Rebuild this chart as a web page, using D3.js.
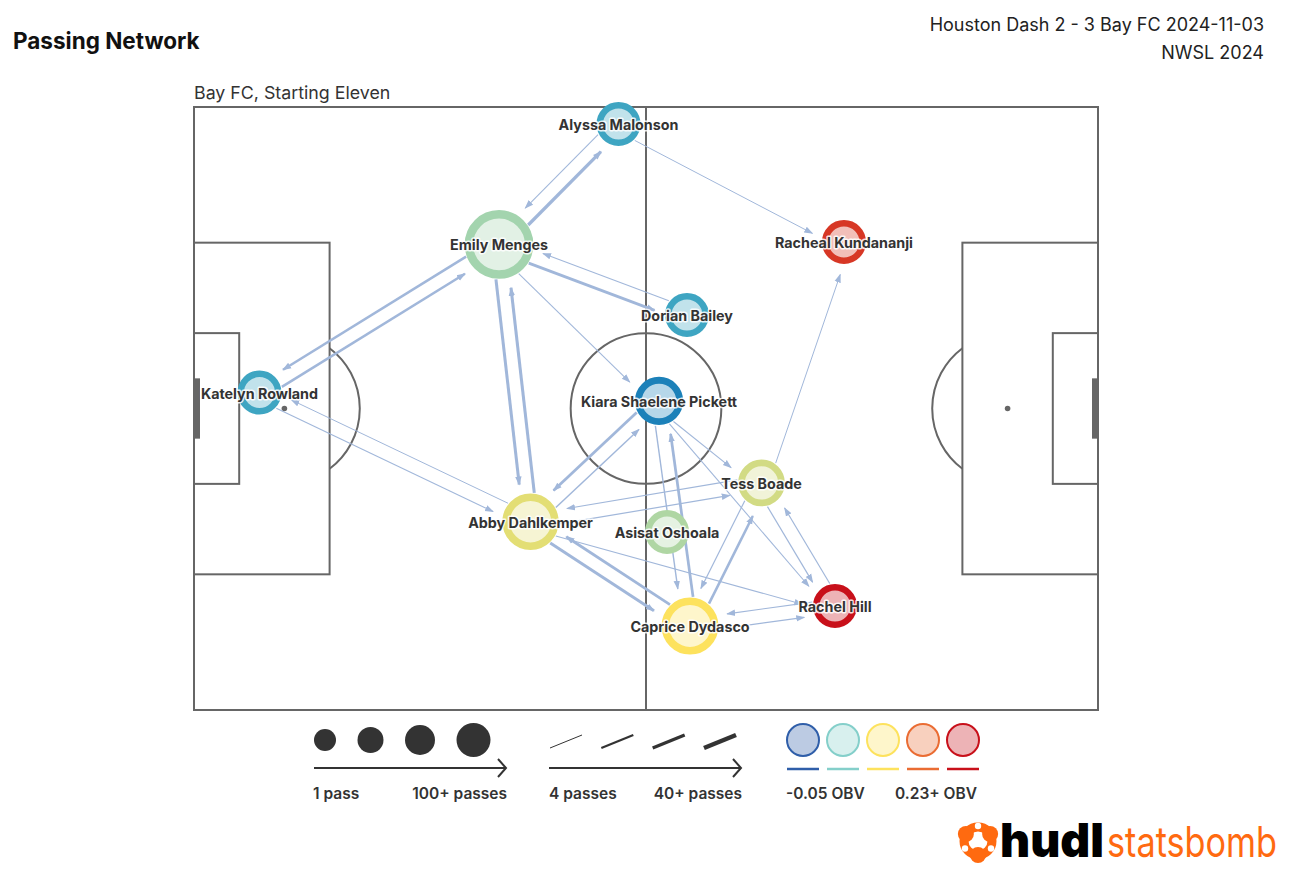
<!DOCTYPE html>
<html><head><meta charset="utf-8">
<script src="https://cdn.jsdelivr.net/npm/d3@7"></script>
<style>
body{margin:0;background:#fff;}
svg{display:block;font-family:Inter,"Noto Sans",sans-serif;}
</style>
</head><body>
<svg id="chart" width="1292" height="891"></svg>
<script>
// ---------- data ----------
const players      = ["Alyssa Malonson","Emily Menges","Racheal Kundananji","Dorian Bailey","Katelyn Rowland","Kiara Shaelene Pickett","Tess Boade","Abby Dahlkemper","Asisat Oshoala","Caprice Dydasco","Rachel Hill"];
const playerX      = [56.35, 40.49, 86.28, 65.44, 8.69, 61.73, 75.33, 44.67, 62.79, 65.84, 85.09];
const playerY      = [2.26, 18.24, 17.91, 27.6, 37.88, 39.0, 49.88, 55.02, 56.38, 68.86, 66.2];
const playerPasses = [18, 67, 14, 20, 22, 33, 31, 45, 16, 46, 19];
const playerOBV    = [-0.008, 0.038, 0.2, -0.008, -0.008, -0.03, 0.065, 0.075, 0.045, 0.09, 0.23];

const passFrom  = ["Emily Menges","Alyssa Malonson","Emily Menges","Katelyn Rowland","Emily Menges","Dorian Bailey","Emily Menges","Emily Menges","Abby Dahlkemper","Kiara Shaelene Pickett","Abby Dahlkemper","Tess Boade","Abby Dahlkemper","Abby Dahlkemper","Caprice Dydasco","Abby Dahlkemper","Katelyn Rowland","Abby Dahlkemper","Kiara Shaelene Pickett","Caprice Dydasco","Kiara Shaelene Pickett","Kiara Shaelene Pickett","Tess Boade","Tess Boade","Rachel Hill","Tess Boade","Caprice Dydasco","Rachel Hill","Caprice Dydasco","Alyssa Malonson"];
const passTo    = ["Alyssa Malonson","Emily Menges","Katelyn Rowland","Emily Menges","Dorian Bailey","Emily Menges","Kiara Shaelene Pickett","Abby Dahlkemper","Emily Menges","Abby Dahlkemper","Kiara Shaelene Pickett","Abby Dahlkemper","Tess Boade","Caprice Dydasco","Abby Dahlkemper","Rachel Hill","Abby Dahlkemper","Katelyn Rowland","Caprice Dydasco","Kiara Shaelene Pickett","Tess Boade","Rachel Hill","Racheal Kundananji","Rachel Hill","Tess Boade","Caprice Dydasco","Tess Boade","Caprice Dydasco","Rachel Hill","Racheal Kundananji"];
const passCount = [27, 5, 20, 20, 22, 5, 5, 25, 25, 22, 9, 6, 6, 24, 22, 5, 5, 4, 8, 22, 5, 5, 4, 6, 6, 6, 20, 6, 6, 4];

const sizeLegendValues  = [1, 34, 67, 100];
const sizeLegendLabels  = ["1 pass", "100+ passes"];
const widthLegendValues = [4, 16, 28, 40];
const widthLegendLabels = ["4 passes", "40+ passes"];
const obvLegendValues   = [-0.05, 0.02, 0.09, 0.16, 0.23];
const obvLegendLabels   = ["-0.05 OBV", "0.23+ OBV"];
const obvColors         = ["#2f5ea9", "#84cfca", "#fde25d", "#ea6c33", "#c8101a"];

// ---------- setup ----------
const svg = d3.select("#chart");
const x = d3.scaleLinear().domain([0, 120]).range([194, 1098]);
const y = d3.scaleLinear().domain([0, 80]).range([107, 710]);
const rScale = d3.scaleSqrt().domain([0, 100]).range([0, 42]);
const nodeR = p => Math.max(22, rScale(p));
const wScale = d3.scaleLinear().domain([4, 40]).range([1, 4.5]).clamp(true);
const mixInterp = (a, b) => d3.color(a).formatHex() === d3.color(obvColors[0]).formatHex()
  ? d3.interpolateHcl(a, b) : d3.interpolateRgb(a, b);
const cScale = d3.scaleLinear().domain(obvLegendValues).range(obvColors).interpolate(mixInterp).clamp(true);
const legendR = d3.scaleLinear().domain([1, 100]).range([11, 17]);
const edgeColor = "#a1b7da";
const lineCol = "#666";
const lightFill = c => d3.interpolateRgb("#fff", c)(0.32);

svg.append("rect").attr("width",1292).attr("height",891).attr("fill","#fff");

// titles
svg.append("text").attr("x",13).attr("y",49).text("Passing Network")
  .style("font-size","22.5px").style("font-weight",700).attr("fill","#111");
svg.append("text").attr("x",1264).attr("y",31).attr("text-anchor","end")
  .text("Houston Dash 2 - 3 Bay FC 2024-11-03").style("font-size","18px").attr("fill","#222");
svg.append("text").attr("x",1264).attr("y",59).attr("text-anchor","end")
  .text("NWSL 2024").style("font-size","18px").attr("fill","#222");
svg.append("text").attr("x",194).attr("y",99).text("Bay FC, Starting Eleven")
  .style("font-size","17.8px").attr("fill","#333");

// ---------- pitch ----------
const pitch = svg.append("g").attr("fill","none").attr("stroke",lineCol).attr("stroke-width",2);
const rectU = (x0,y0,x1,y1) => pitch.append("rect").attr("x",x(x0)).attr("y",y(y0))
  .attr("width",x(x1)-x(x0)).attr("height",y(y1)-y(y0));
rectU(0,0,120,80);
rectU(0,18,18,62); rectU(0,30,6,50);
rectU(102,18,120,62); rectU(114,30,120,50);
pitch.append("line").attr("x1",x(60)).attr("x2",x(60)).attr("y1",y(0)).attr("y2",y(80));
const r10 = x(10)-x(0);
pitch.append("circle").attr("cx",x(60)).attr("cy",y(40)).attr("r",r10);
pitch.append("path").attr("d",`M${x(18)},${y(32)} A${r10},${r10} 0 0 1 ${x(18)},${y(48)}`);
pitch.append("path").attr("d",`M${x(102)},${y(32)} A${r10},${r10} 0 0 0 ${x(102)},${y(48)}`);
svg.append("circle").attr("cx",x(12)).attr("cy",y(40)).attr("r",2.8).attr("fill",lineCol);
svg.append("circle").attr("cx",x(108)).attr("cy",y(40)).attr("r",2.8).attr("fill",lineCol);
svg.append("rect").attr("x",x(0)).attr("y",y(36)).attr("width",6).attr("height",y(44)-y(36)).attr("fill",lineCol);
svg.append("rect").attr("x",x(120)-6).attr("y",y(36)).attr("width",6).attr("height",y(44)-y(36)).attr("fill",lineCol);

// ---------- network ----------
const nodes = players.map((n,i)=>({name:n, px:x(playerX[i]), py:y(playerY[i]), r:nodeR(playerPasses[i]), col:cScale(playerOBV[i])}));
const byName = Object.fromEntries(nodes.map(d=>[d.name,d]));
const edges = passFrom.map((f,i)=>({s:byName[f], t:byName[passTo[i]], w:wScale(passCount[i])}));

const defs = svg.append("defs");
defs.append("marker").attr("id","arr").attr("viewBox","0 -4 9 8").attr("refX",8).attr("refY",0)
  .attr("markerWidth",9).attr("markerHeight",8).attr("markerUnits","userSpaceOnUse").attr("orient","auto")
  .append("path").attr("d","M0,-3.2L9,0L0,3.2Z").attr("fill",edgeColor);

const off = 7, gap = 10;
svg.append("g").selectAll("line").data(edges).join("line")
  .each(function(d){
    const dx = d.t.px-d.s.px, dy = d.t.py-d.s.py, L = Math.hypot(dx,dy);
    const ux = dx/L, uy = dy/L, nx = -uy, ny = ux;
    d3.select(this)
      .attr("x1", d.s.px + ux*d.s.r + nx*off).attr("y1", d.s.py + uy*d.s.r + ny*off)
      .attr("x2", d.t.px - ux*(d.t.r+gap) + nx*off).attr("y2", d.t.py - uy*(d.t.r+gap) + ny*off);
  })
  .attr("stroke",edgeColor).attr("stroke-width",d=>d.w).attr("marker-end","url(#arr)");

const ring = r => 3 + r*0.16;
svg.append("g").selectAll("circle").data(nodes).join("circle")
  .attr("cx",d=>d.px).attr("cy",d=>d.py).attr("r",d=>d.r-ring(d.r)/2)
  .attr("fill",d=>lightFill(d.col))
  .attr("stroke",d=>d.col).attr("stroke-width",d=>ring(d.r));

svg.append("g").selectAll("text").data(nodes).join("text")
  .attr("x",d=>d.px).attr("y",d=>d.py+1).attr("dy","0.35em").attr("text-anchor","middle")
  .text(d=>d.name).style("font-size","14.3px").style("font-weight",700).attr("fill","#333")
  .attr("stroke","rgba(255,255,255,0.85)").attr("stroke-width",3).attr("stroke-linejoin","round")
  .style("paint-order","stroke");

// ---------- legends ----------
const lgd = svg.append("g");
const legArrow = (x0,x1,yy) => {
  lgd.append("line").attr("x1",x0).attr("x2",x1).attr("y1",yy).attr("y2",yy).attr("stroke","#333").attr("stroke-width",2);
  lgd.append("path").attr("d",`M${x1-8},${yy-9}L${x1},${yy}L${x1-8},${yy+9}`).attr("fill","none").attr("stroke","#333").attr("stroke-width",2);
};
const legText = (t,xx,anchor) => lgd.append("text").attr("x",xx).attr("y",799).attr("text-anchor",anchor)
  .text(t).style("font-size","15.5px").style("font-weight",600).attr("fill","#333");

// sizes
let cx = 325;
const sizeCx = sizeLegendValues.map((d,i)=>{
  if(i>0) cx += legendR(sizeLegendValues[i-1]) + legendR(d) + 21.5;
  return cx;
});
lgd.selectAll(".sz").data(sizeLegendValues).join("circle").attr("class","sz")
  .attr("cx",(d,i)=>sizeCx[i]).attr("cy",740).attr("r",d=>legendR(d)).attr("fill","#333");
legArrow(314,506,768);
legText(sizeLegendLabels[0],313,"start"); legText(sizeLegendLabels[1],507,"end");

// widths
const widX = d3.scalePoint().domain(widthLegendValues).range([566, 720]);
lgd.selectAll(".wd").data(widthLegendValues).join("line").attr("class","wd")
  .attr("x1",d=>widX(d)-16).attr("x2",d=>widX(d)+16).attr("y1",748).attr("y2",735)
  .attr("stroke","#333").attr("stroke-width",d=>wScale(d));
legArrow(549,741,768);
legText(widthLegendLabels[0],549,"start"); legText(widthLegendLabels[1],742,"end");

// obv
const obvX = d3.scalePoint().domain(obvLegendValues).range([803, 963]);
lgd.selectAll(".ob").data(obvLegendValues).join("circle").attr("class","ob")
  .attr("cx",d=>obvX(d)).attr("cy",740).attr("r",16)
  .attr("fill",d=>lightFill(cScale(d))).attr("stroke",d=>cScale(d)).attr("stroke-width",2);
lgd.selectAll(".obl").data(obvLegendValues).join("line").attr("class","obl")
  .attr("x1",d=>obvX(d)-16).attr("x2",d=>obvX(d)+16).attr("y1",769).attr("y2",769)
  .attr("stroke",d=>cScale(d)).attr("stroke-width",2.5);
legText(obvLegendLabels[0],786,"start"); legText(obvLegendLabels[1],977,"end");

// ---------- logo ----------
const logo = svg.append("g");
const orange = "#ff6a10";
const ic = logo.append("g").attr("transform","translate(978,841)");
ic.append("circle").attr("r",14).attr("fill","none").attr("stroke",orange).attr("stroke-width",9);
[-150,-30,90].forEach(a=>{
  const t=a*Math.PI/180;
  ic.append("circle").attr("cx",Math.cos(t)*14).attr("cy",Math.sin(t)*14).attr("r",8).attr("fill",orange);
});
[-90,30,150].forEach(a=>{
  const t=a*Math.PI/180;
  ic.append("circle").attr("cx",Math.cos(t)*15).attr("cy",Math.sin(t)*15).attr("r",3.2).attr("fill","#fff");
});
ic.append("circle").attr("r",5).attr("fill","#fff");
logo.append("text").attr("transform","translate(1000,857) scale(1,1.12)").text("hudl").attr("fill","#000")
  .style("font-size","42px").style("font-weight",900).attr("textLength",104).attr("lengthAdjust","spacingAndGlyphs");
logo.append("text").attr("transform","translate(1107,857) scale(1,1.25)").text("statsbomb").attr("fill",orange)
  .style("font-size","34px").style("font-weight",400).attr("textLength",170).attr("lengthAdjust","spacingAndGlyphs");
</script>
</body></html>
